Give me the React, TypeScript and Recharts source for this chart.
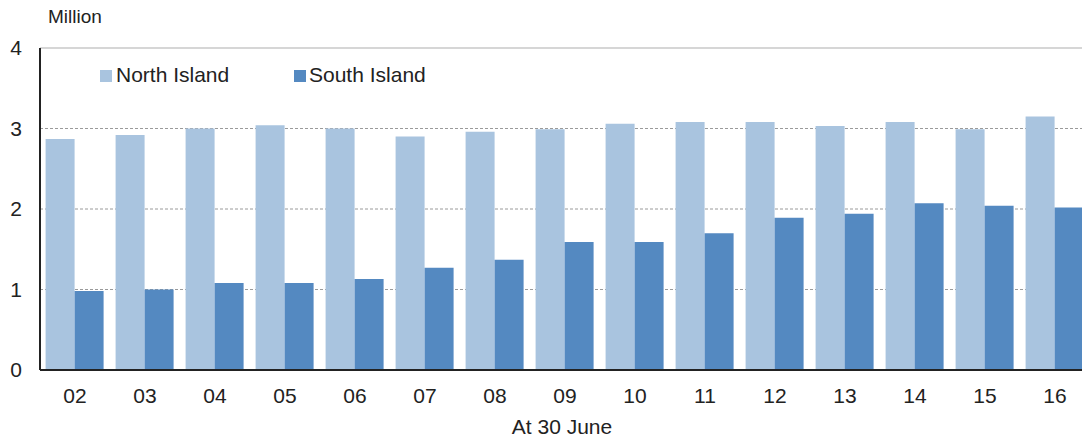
import React from 'react';
import { BarChart, Bar, XAxis, YAxis, CartesianGrid, ReferenceLine } from 'recharts';

const years = ['02', '03', '04', '05', '06', '07', '08', '09', '10', '11', '12', '13', '14', '15', '16'];
const northIsland = [2.87, 2.92, 3.0, 3.04, 3.0, 2.9, 2.96, 2.99, 3.06, 3.08, 3.08, 3.03, 3.08, 2.99, 3.15];
const southIsland = [0.98, 1.0, 1.08, 1.08, 1.13, 1.27, 1.37, 1.59, 1.59, 1.7, 1.89, 1.94, 2.07, 2.04, 2.02];
const yTicks = [0, 1, 2, 3, 4];
const seriesNames = ['North Island', 'South Island'];

const NORTH_COLOR = '#A9C4DF';
const SOUTH_COLOR = '#5489C1';
const FONT = '"Liberation Sans", Arial, sans-serif';
const TEXT_COLOR = '#222';
const FS = 21;

const data = years.map((y, i) => ({ year: y, north: northIsland[i], south: southIsland[i] }));

const LegendBox = () => (
  <div style={{ position: 'absolute', left: 100, top: 63, width: 400, height: 24, fontFamily: FONT, fontSize: FS, color: TEXT_COLOR }}>
    <div style={{ position: 'absolute', left: 0, top: 7, width: 12, height: 12, background: NORTH_COLOR }} />
    <div style={{ position: 'absolute', left: 16, top: 0, lineHeight: '24px', whiteSpace: 'nowrap' }}>{seriesNames[0]}</div>
    <div style={{ position: 'absolute', left: 194, top: 7, width: 12, height: 12, background: SOUTH_COLOR }} />
    <div style={{ position: 'absolute', left: 209, top: 0, lineHeight: '24px', whiteSpace: 'nowrap' }}>{seriesNames[1]}</div>
  </div>
);

export default function App() {
  return (
    <div style={{ position: 'fixed', left: 0, top: 0, width: 1082, height: 439, overflow: 'hidden', background: '#fff' }}>
      <BarChart
        width={1090}
        height={439}
        data={data}
        margin={{ top: 48, right: 0, bottom: 0, left: 0 }}
        barCategoryGap="8%"
        barGap={0}
      >
        <CartesianGrid horizontal vertical={false} horizontalValues={[1, 2, 3]} stroke="#9a9a9a" strokeDasharray="3 2" />
        <ReferenceLine y={4} stroke="#c8c8c8" strokeWidth={1.5} />
        <XAxis
          dataKey="year"
          height={69}
          tickLine={false}
          tickSize={0}
          tickMargin={18}
          axisLine={{ stroke: '#222', strokeWidth: 2 }}
          tick={{ fill: TEXT_COLOR, fontFamily: FONT, fontSize: FS }}
          interval={0}
          label={{ value: 'At 30 June', position: 'insideBottom', offset: 5, dx: -3, fill: TEXT_COLOR, fontFamily: FONT, fontSize: FS }}
        />
        <YAxis
          width={40}
          domain={[0, 4]}
          ticks={yTicks}
          tickLine={false}
          tickSize={0}
          tickMargin={18}
          axisLine={{ stroke: '#222', strokeWidth: 2 }}
          tick={{ fill: TEXT_COLOR, fontFamily: FONT, fontSize: FS }}
          interval={0}
        />
        <Bar dataKey="north" name={seriesNames[0]} fill={NORTH_COLOR} isAnimationActive={false} />
        <Bar dataKey="south" name={seriesNames[1]} fill={SOUTH_COLOR} isAnimationActive={false} />
      </BarChart>
      <div
        style={{
          position: 'absolute',
          left: 48,
          top: 6,
          fontFamily: FONT,
          fontSize: 19,
          color: TEXT_COLOR,
          whiteSpace: 'nowrap',
        }}
      >
        Million
      </div>
      <LegendBox />
    </div>
  );
}
